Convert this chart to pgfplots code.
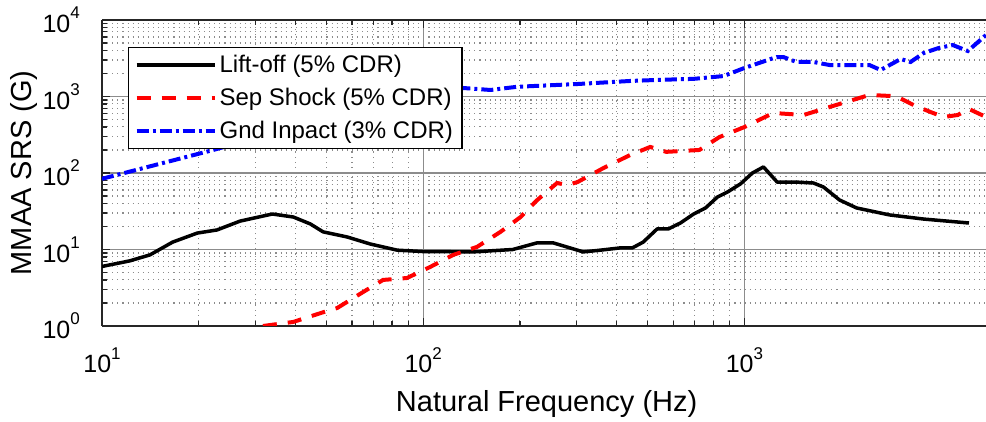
\documentclass[border=0pt]{standalone}
\usepackage{fontspec}
\setmainfont{Liberation Sans}
\usepackage{pgfplots}
\pgfplotsset{compat=1.18}
\definecolor{gridgray}{HTML}{8C8C8C}
\definecolor{axgray}{HTML}{262626}
\newcommand{\tl}[1]{10\raisebox{0.55em}{\fontsize{17}{17}\selectfont #1}}
\begin{document}
\begin{tikzpicture}
\begin{axis}[
  at={(0pt,0pt)}, anchor=south west,
  scale only axis, width=884pt, height=306pt,
  xmode=log, ymode=log,
  xmin=10, xmax=5650, ymin=1, ymax=10000,
  xtick={10,100,1000}, ytick={1,10,100,1000,10000},
  xticklabels={\tl{1},\tl{2},\tl{3}},
  yticklabels={\tl{0},\tl{1},\tl{2},\tl{3},\tl{4}},
  axis x line*=box, axis y line*=left,
  every non boxed y axis/.append style={y axis line style={-}},
  y axis line style={-},
  axis line style={axgray, line width=1.6pt},
  tick align=inside,
  major tick length=8pt, minor tick length=5pt,
  every tick/.style={axgray, line width=1.2pt},
  grid=both,
  major grid style={gridgray, line width=1.2pt},
  minor grid style={gridgray, line width=1.1pt, dash pattern=on 1.1pt off 4pt},
  tick label style={font=\fontsize{25}{29}\selectfont},
  xticklabel style={anchor=base, yshift=-47pt, inner sep=0pt},
  yticklabel style={anchor=east, xshift=-22pt, inner sep=0pt},
  xlabel={Natural Frequency (Hz)},
  ylabel={MMAA SRS (G)},
  label style={font=\fontsize{29}{33}\selectfont},
  xlabel style={at={(axis description cs:0.503,-0.281)}, anchor=base},
  ylabel style={at={(axis description cs:-0.0792,0.5)}, anchor=base, rotate=0},
  legend cell align=left,
  legend image code/.code={\draw[#1] (0pt,0pt) -- (78pt,0pt);},
  legend style={at={(axis description cs:0.0294,0.9118)}, anchor=north west,
    draw=black, line width=1.2pt, fill=white,
    font=\fontsize{24}{28}\selectfont,
    inner xsep=6pt, inner ysep=5pt, row sep=8pt,
    nodes={inner sep=3pt},
    /tikz/every even column/.append style={column sep=1pt}},
  clip=true,
]
\addplot[black, line width=3.5pt, line join=round] coordinates {
(10,6.0) (12.2,7.1) (14.1,8.5) (16.6,12.5) (19.8,16.4) (22.8,18) (26.9,23.5)
(33.9,29.1) (39.4,26.6) (44.5,21.6) (48.8,17) (57.9,14.6) (68.4,11.8) (83,9.8)
(100,9.4) (143,9.3) (190,10) (226,12.2) (254,12.2) (315,9.3) (356,9.8) (411,10.5)
(448,10.5) (484,12.5) (535,18.6) (580,18.6) (632,22.2) (694,29) (757,35) (824,48.5)
(886,56.5) (972,72) (1059,100) (1146,120) (1265,76) (1453,76) (1640,74) (1762,65.6)
(1977,44.4) (2235,34.9) (2831,28.3) (3614,25) (5000,22.2)
};
\addlegendentry{Lift-off (5\% CDR)}
\addplot[red, line width=4pt, dash pattern=on 14pt off 11pt] coordinates {
(31.7,1.0) (39.4,1.13) (49,1.52) (54,1.72) (65,2.78) (75,4.0) (89,4.24) (105,5.9)
(124,8.5) (147,10.8) (174,17) (201,26.6) (226,44) (261,74) (281,69.7) (302,76)
(364,116) (441,172) (509,219) (547,200) (571,189) (724,200) (836,295) (1000,399)
(1230,609) (1528,573) (1840,729) (2449,1047) (2850,1016) (3000,985) (3360,774)
(3795,627) (4170,540) (4615,573) (5000,687) (5650,540)
};
\addlegendentry{Sep Shock (5\% CDR)}
\addplot[blue, line width=4pt, dash pattern=on 12pt off 4pt on 3pt off 4pt] coordinates {
(10,84) (22.2,200) (40,400) (70,800) (100,1100) (133,1292) (162,1217) (196,1340)
(302,1456) (441,1596) (547,1652) (694,1700) (861,1850) (1000,2360) (1259,3280)
(1322,3280) (1453,2826) (1640,2826) (1840,2580) (2449,2580) (2655,2220) (3065,3090)
(3290,2826) (3614,3700) (4020,4300) (4450,4710) (4960,3930) (5650,6360)
};
\addlegendentry{Gnd Inpact (3\% CDR)}
\end{axis}
\pgfresetboundingbox
\path (-102pt,-96pt) rectangle (884pt,326pt);
\end{tikzpicture}
\end{document}
